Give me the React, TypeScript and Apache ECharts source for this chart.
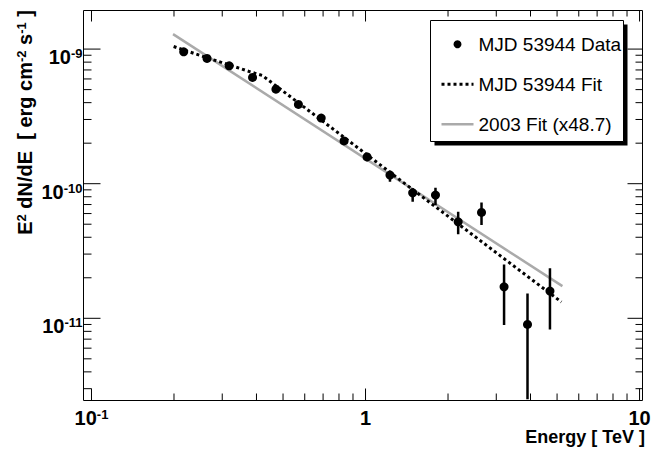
import React, { useEffect, useRef } from 'react';
import * as echarts from 'echarts';

// ---- data (energy in TeV, E^2 dN/dE in erg cm^-2 s^-1) ----
const DATA_E = [0.217, 0.264, 0.318, 0.387, 0.471, 0.569, 0.689, 0.835, 1.013, 1.228, 1.486, 1.80, 2.178, 2.65, 3.203, 3.90, 4.71];
const DATA_F = [9.55e-10, 8.53e-10, 7.51e-10, 6.16e-10, 5.04e-10, 3.88e-10, 3.07e-10, 2.08e-10, 1.58e-10, 1.158e-10, 8.56e-11, 8.23e-11, 5.21e-11, 6.12e-11, 1.714e-11, 9.01e-12, 1.592e-11];
const DATA_LO = [9.2e-10, 8.25e-10, 7.3e-10, 5.95e-10, 4.85e-10, 3.7e-10, 2.9e-10, 1.95e-10, 1.47e-10, 1.035e-10, 7.34e-11, 6.93e-11, 4.22e-11, 4.93e-11, 8.9e-12, 2.5e-12, 8.27e-12];
const DATA_HI = [9.9e-10, 8.8e-10, 7.75e-10, 6.35e-10, 5.25e-10, 4.05e-10, 3.25e-10, 2.22e-10, 1.7e-10, 1.25e-10, 9.27e-11, 9.32e-11, 6.18e-11, 7.26e-11, 2.51e-11, 1.53e-11, 2.35e-11];

const FIT_E = [0.1994, 0.2494, 0.3182, 0.3796, 0.4198, 0.5309, 0.878, 1.373, 2.403, 5.185];
const FIT_F = [1.045e-9, 8.96e-10, 7.62e-10, 6.78e-10, 6.37e-10, 4.44e-10, 2.045e-10, 1.022e-10, 4.32e-11, 1.322e-11];

const FIT03_E = [0.1984, 5.229];
const FIT03_F = [1.292e-9, 1.734e-11];

const X_TICKS = [0.1, 1, 10];
const X_MINOR = [0.2, 0.3, 0.4, 0.5, 0.6, 0.7, 0.8, 0.9, 2, 3, 4, 5, 6, 7, 8, 9];
const Y_TICKS = [1e-11, 1e-10, 1e-9];
const Y_MINOR = [3e-12, 4e-12, 5e-12, 6e-12, 7e-12, 8e-12, 9e-12,
  2e-11, 3e-11, 4e-11, 5e-11, 6e-11, 7e-11, 8e-11, 9e-11,
  2e-10, 3e-10, 4e-10, 5e-10, 6e-10, 7e-10, 8e-10, 9e-10];
const X_RANGE = [0.0935, 10.25];
const Y_RANGE = [2.451e-12, 1.935e-9];

const NAMES = ['MJD 53944 Data', 'MJD 53944 Fit', '2003 Fit (x48.7)'];

const FONT = 'Liberation Sans, Arial, Helvetica, sans-serif';
const L = (v: number) => Math.log10(v);

const RICH = {
  b: { fontSize: 20, fontWeight: 'bold', fontFamily: FONT, color: '#000', lineHeight: 20 },
  s: { fontSize: 13, fontWeight: 'bold', fontFamily: FONT, color: '#000', lineHeight: 6, verticalAlign: 'top' },
};

const fmtPow = (v: number) => {
  const n = Math.round(v);
  if (n === 0) return '{b|1}';
  if (n === 1) return '{b|10}';
  return `{b|10}{s|${n}}`;
};

// tick lengths [near side (bottom/left), far side (top/right)]
const X_MAJOR_LEN = [12, 11];
const X_MINOR_LEN = [7, 6];
const Y_MAJOR_LEN = [17, 15];
const Y_MINOR_LEN = [8, 7];

const tickStyle = { stroke: '#000', lineWidth: 1 };

export default function App() {
  const ref = useRef<HTMLDivElement>(null);
  useEffect(() => {
    if (!ref.current) return;
    const chart = echarts.init(ref.current, undefined, { renderer: 'svg' });
    const xMin = L(X_RANGE[0]);
    const yMin = L(Y_RANGE[0]);
    const xTickData = [
      ...X_TICKS.map((v) => [L(v), 1]),
      ...X_MINOR.map((v) => [L(v), 0]),
    ];
    const yTickData = [
      ...Y_TICKS.map((v) => [1, L(v)]),
      ...Y_MINOR.map((v) => [0, L(v)]),
    ];
    const option: any = {
      animation: false,
      backgroundColor: '#fff',
      grid: {
        left: 83.5, right: 8.5, top: 10.5, bottom: 51.5,
        show: true, borderColor: '#000', borderWidth: 1, backgroundColor: 'transparent',
        containLabel: false, outerBoundsMode: 'none',
      },
      xAxis: {
        type: 'value',
        min: L(X_RANGE[0]),
        max: L(X_RANGE[1]),
        axisLine: { show: false, onZero: false },
        axisTick: { show: false },
        splitLine: { show: false },
        axisLabel: { show: true, customValues: X_TICKS.map(L), formatter: fmtPow, rich: RICH, margin: 7 },
      },
      yAxis: {
        type: 'value',
        min: L(Y_RANGE[0]),
        max: L(Y_RANGE[1]),
        axisLine: { show: false, onZero: false },
        axisTick: { show: false },
        splitLine: { show: false },
        axisLabel: { show: true, customValues: Y_TICKS.map(L), formatter: fmtPow, rich: RICH, margin: 1, padding: [16, 0, 0, 0] },
      },
      legend: {
        orient: 'vertical',
        left: 430,
        top: 20.7,
        z: 30,
        zlevel: 0,
        padding: [14, 5, 10, 10],
        itemGap: 21,
        itemWidth: 32,
        itemHeight: 8,
        selectedMode: false,
        backgroundColor: 'transparent',
        borderWidth: 0,
        lineStyle: { width: 'inherit' },
        textStyle: { fontSize: 19, fontFamily: FONT, color: '#000' },
        data: [
          { name: NAMES[0] },
          { name: NAMES[1], itemStyle: { color: 'rgba(0,0,0,0)', opacity: 0, borderWidth: 0 } },
          { name: NAMES[2], itemStyle: { color: 'rgba(0,0,0,0)', opacity: 0, borderWidth: 0 } },
        ],
      },
      graphic: [
        // legend frame with ROOT-style drop shadow
        { type: 'rect', z: 6, shape: { x: 434.5, y: 24.5, width: 193, height: 121 }, style: { fill: '#000' }, silent: true },
        { type: 'rect', z: 7, shape: { x: 430.5, y: 20.5, width: 193, height: 121 }, style: { fill: '#fff', stroke: '#000', lineWidth: 1 }, silent: true },
        {
          type: 'text',
          x: 35,
          y: 10,
          rotation: Math.PI / 2,
          style: {
            text: 'E{s|2} dN/dE  [ erg cm{s|-2} s{s|-1} ]',
            font: `bold 20px ${FONT}`,
            fill: '#000',
            align: 'right',
            verticalAlign: 'bottom',
            rich: {
              s: { fontSize: 13, fontWeight: 'bold', fontFamily: FONT, fill: '#000', lineHeight: 6, verticalAlign: 'top' },
            },
          },
        },
        {
          type: 'text',
          x: 645,
          y: 437,
          style: {
            text: 'Energy [ TeV ]',
            font: `bold 18px ${FONT}`,
            fill: '#000',
            align: 'right',
            verticalAlign: 'middle',
          },
        },
      ],
      series: [
        {
          name: NAMES[2],
          type: 'line',
          symbol: 'none',
          data: FIT03_E.map((e, i) => [L(e), L(FIT03_F[i])]),
          lineStyle: { color: '#aaaaaa', width: 2.5 },
          itemStyle: { color: '#aaaaaa' },
          z: 1,
          silent: true,
        },
        {
          name: NAMES[1],
          type: 'line',
          symbol: 'none',
          data: FIT_E.map((e, i) => [L(e), L(FIT_F[i])]),
          lineStyle: { color: '#000', width: 3, type: [3, 3], cap: 'butt' },
          itemStyle: { color: '#000' },
          z: 2,
          silent: true,
        },
        {
          name: 'errors',
          type: 'custom',
          clip: true,
          silent: true,
          z: 3,
          data: DATA_E.map((e, i) => [L(e), L(DATA_LO[i]), L(DATA_HI[i])]),
          encode: { x: 0, y: [1, 2] },
          renderItem: (_params: any, api: any) => {
            const p1 = api.coord([api.value(0), api.value(1)]);
            const p2 = api.coord([api.value(0), api.value(2)]);
            return {
              type: 'line',
              shape: { x1: p1[0], y1: p1[1], x2: p2[0], y2: p2[1] },
              style: { stroke: '#000', lineWidth: 2.5 },
            };
          },
        },
        {
          name: NAMES[0],
          type: 'scatter',
          symbol: 'circle',
          symbolSize: 9,
          data: DATA_E.map((e, i) => [L(e), L(DATA_F[i])]),
          itemStyle: { color: '#000', opacity: 1 },
          z: 4,
          silent: true,
        },
        {
          name: 'xticks',
          type: 'custom',
          clip: false,
          silent: true,
          z: 5,
          data: xTickData,
          encode: { x: 0 },
          renderItem: (params: any, api: any) => {
            const cs = params.coordSys;
            const px = api.coord([api.value(0), yMin])[0];
            const major = api.value(1) === 1;
            const lb = major ? X_MAJOR_LEN[0] : X_MINOR_LEN[0];
            const lt = major ? X_MAJOR_LEN[1] : X_MINOR_LEN[1];
            const yb = cs.y + cs.height;
            return {
              type: 'group',
              children: [
                { type: 'line', shape: { x1: px, y1: yb, x2: px, y2: yb - lb }, style: tickStyle },
                { type: 'line', shape: { x1: px, y1: cs.y, x2: px, y2: cs.y + lt }, style: tickStyle },
              ],
            };
          },
        },
        {
          name: 'yticks',
          type: 'custom',
          clip: false,
          silent: true,
          z: 5,
          data: yTickData,
          encode: { y: 1 },
          renderItem: (params: any, api: any) => {
            const cs = params.coordSys;
            const py = api.coord([xMin, api.value(1)])[1];
            const major = api.value(0) === 1;
            const ll = major ? Y_MAJOR_LEN[0] : Y_MINOR_LEN[0];
            const lr = major ? Y_MAJOR_LEN[1] : Y_MINOR_LEN[1];
            const xr = cs.x + cs.width;
            return {
              type: 'group',
              children: [
                { type: 'line', shape: { x1: cs.x, y1: py, x2: cs.x + ll, y2: py }, style: tickStyle },
                { type: 'line', shape: { x1: xr, y1: py, x2: xr - lr, y2: py }, style: tickStyle },
              ],
            };
          },
        },
      ],
    };
    chart.setOption(option);
    return () => chart.dispose();
  }, []);
  return (
    <div
      ref={ref}
      style={{ position: 'fixed', left: 0, top: 0, width: 651, height: 452, background: '#fff' }}
    />
  );
}
